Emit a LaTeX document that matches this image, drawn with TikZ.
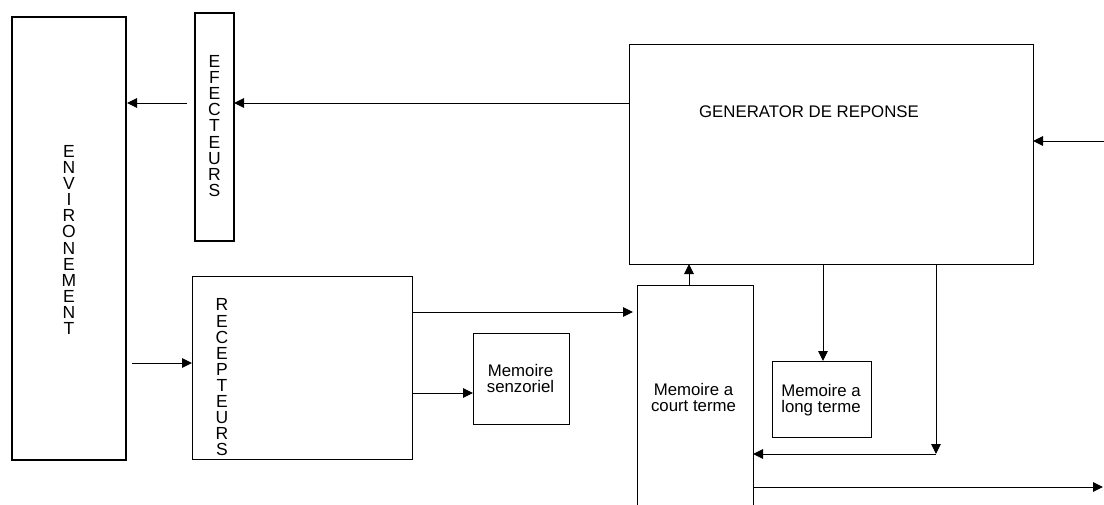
\documentclass[tikz,border=0pt]{standalone}
\usepackage{fontspec}
\setmainfont{Liberation Sans}
\usetikzlibrary{arrows.meta}
\begin{document}
\begin{tikzpicture}[x=1pt,y=-1pt,
  box/.style={draw, line width=1pt, inner sep=0pt, outer sep=0pt, anchor=north west},
  heavy/.style={line width=2pt},
  lbl/.style={align=center, inner sep=0pt, font=\fontsize{16.8}{16}\selectfont},
  vtext/.style={align=center, inner sep=0pt, font=\fontsize{17.5}{16.1}\selectfont},
  arr/.style={line width=1pt, -{Triangle[length=10pt,width=9.5pt]}}]
\fill[white] (0,0) rectangle (1104,504);
\clip (0,0) rectangle (1104,504);
% boxes
\node[box, heavy, minimum width=114pt, minimum height=443pt] (env) at (12,17) {};
\node[box, heavy, minimum width=39pt, minimum height=228pt] (eff) at (195,13) {};
\node[box, minimum width=220pt, minimum height=183pt] (rec) at (192,276) {};
\node[box, minimum width=96pt, minimum height=91pt] (sen) at (473,333) {};
\node[box, minimum width=116pt, minimum height=240pt] (ct) at (637,285) {};
\node[box, minimum width=404pt, minimum height=220pt] (gen) at (629,44) {};
\node[box, minimum width=99pt, minimum height=76pt] (lt) at (772,361) {};
% texts
\node[vtext] (envt) at (69,240) {E\\N\\V\\I\\R\\O\\N\\E\\M\\E\\N\\T};
\node[vtext] (efft) at (214.5,126) {E\\F\\E\\C\\T\\E\\U\\R\\S};
\node[vtext] (rect) at (222,377.5) {R\\E\\C\\E\\P\\T\\E\\U\\R\\S};
\node[lbl] (gent) at (809,112) {GENERATOR DE REPONSE};
\node[lbl] (sent) at (520.5,378.5) {Memoire\\senzoriel};
\node[lbl] (ctt) at (693.5,397) {Memoire a\\court terme};
\node[lbl] (ltt) at (821,400) {Memoire a\\long terme};
% helper coordinates
\coordinate (y103) at (0,103);
\coordinate (y363) at (0,363);
\coordinate (y312) at (0,312);
\coordinate (y393) at (0,393);
\coordinate (x689) at (689,0);
\coordinate (x823) at (823,0);
\coordinate (x936) at (936,0);
\coordinate (down) at (936,454);
\coordinate (outR) at (1104,487);
\coordinate (inR) at (1104,141);
% connectors
\draw[arr] (gen.west |- y103) -- (eff.east |- y103);
\draw[arr, shorten <=8pt, shorten >=1pt] (eff.west |- y103) -- (env.east |- y103);
\draw[arr, shorten <=6pt] (env.east |- y363) -- (rec.west |- y363);
\draw[arr, shorten >=4pt] (rec.east |- y312) -- (ct.west |- y312);
\draw[arr] (rec.east |- y393) -- (sen.west |- y393);
\draw[arr] (ct.north -| x689) -- (gen.south -| x689);
\draw[arr] (gen.south -| x823) -- (lt.north -| x823);
\draw[arr] (gen.south -| x936) -- (down);
\draw[arr] (down) -- (ct.east |- down);
\draw[arr, shorten >=1pt] (ct.east |- outR) -- (outR);
\draw[arr] (inR) -- (gen.east |- inR);
\end{tikzpicture}
\end{document}
